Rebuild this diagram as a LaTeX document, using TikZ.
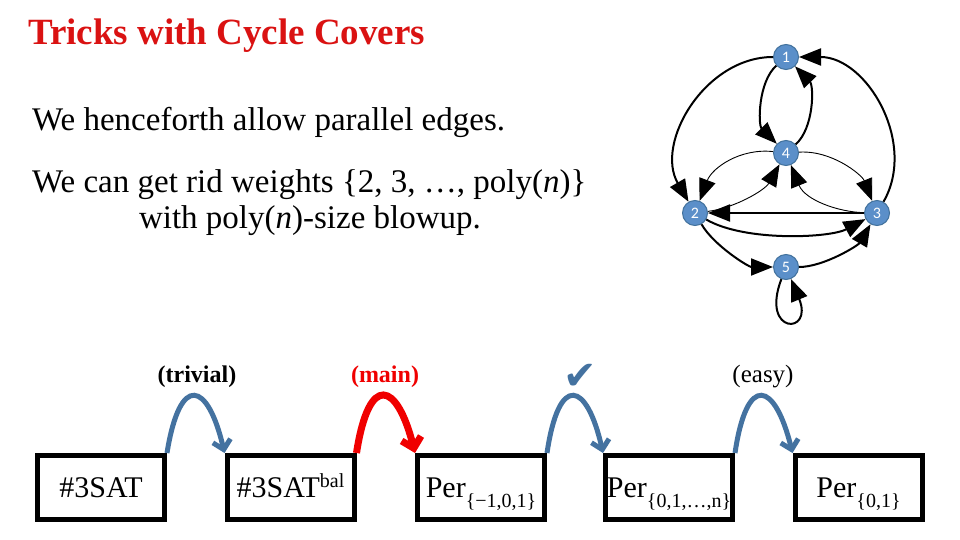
\documentclass[tikz,border=0pt]{standalone}
\usepackage{fontspec}
\setmainfont{Liberation Serif}
\newfontfamily\symfont{DejaVu Sans}
\newfontfamily\nodefont{Carlito}
\usetikzlibrary{arrows.meta}
\definecolor{titlered}{RGB}{218,18,18}
\definecolor{nodeblue}{RGB}{91,143,201}
\definecolor{nodeedge}{RGB}{65,113,156}
\definecolor{arcblue}{RGB}{68,114,160}
\definecolor{arcred}{RGB}{240,0,0}
\tikzset{
  gnode/.style={circle, fill=nodeblue, draw=nodeedge, line width=1pt, minimum size=25pt, inner sep=0pt, text=white, font=\nodefont\fontsize{16}{16}\selectfont},
  gtip/.tip={Triangle[length=22pt,width=17pt]},
  gedge/.style={line width=2pt, -gtip},
  tedge/.style={line width=0.9pt, -gtip},
  redbox/.style={draw, line width=5pt, minimum width=127pt, minimum height=64pt, inner sep=0pt, text height=19pt, text depth=0pt, font=\fontsize{30}{30}\selectfont},
  barc/.style={draw=arcblue, line width=5pt, -{Straight Barb[length=9pt,width=18pt]}},
  rarc/.style={draw=arcred, line width=7pt, -{Straight Barb[length=10pt,width=20pt]}},
  lbl/.style={font=\fontsize{23}{23}\selectfont},
  body/.style={anchor=base west, inner sep=0pt, font=\fontsize{33}{33}\selectfont}
}
\begin{document}
\begin{tikzpicture}[x=1pt,y=-1pt]
\useasboundingbox (0,0) rectangle (960,540);
\fill[white] (0,0) rectangle (960,540);
% title and text
\node[anchor=base west, inner sep=0pt, text=titlered, font=\bfseries\fontsize{37}{37}\selectfont] (title) at (28,45) {Tricks with Cycle Covers};
\node[body] (t1) at (32,131) {We henceforth allow parallel edges.};
\node[body] (t2) at (32,193) {We can get rid weights \{2, 3, …, poly(\textit{n})\}};
\node[body, anchor=base] (t3) at (310,228) {with poly(\textit{n})-size blowup.};
% graph
\node[gnode] (n1) at (786,57) {1};
\node[gnode] (n4) at (786,153) {4};
\node[gnode] (n2) at (695,213) {2};
\node[gnode] (n3) at (877,213) {3};
\node[gnode] (n5) at (786,267) {5};
\draw[gedge] (n1) .. controls (705,57) and (654.6,143) .. (n2);
\draw[gedge] (n3) .. controls (917.4,143) and (866.8,57) .. (n1);
\draw[gedge] (n1) .. controls (758,82) and (758,125) .. (n4);
\draw[gedge] (n4) .. controls (814,128) and (814,86) .. (n1);
\draw[tedge] (n4) .. controls (740,148) and (712,168) .. (n2);
\draw[tedge] (n2) .. controls (735,208) and (765,190) .. (n4);
\draw[tedge] (n4) .. controls (832,150) and (862,175) .. (n3);
\draw[tedge] (n3) .. controls (838,212) and (805,200) .. (n4);
\draw[gedge] (n3) -- (n2);
\draw[gedge] (n2) .. controls (745,242) and (830,238) .. (n3);
\draw[gedge] (n2) .. controls (713.8,245.5) and (748.5,267) .. (n5);
\draw[gedge] (n5) .. controls (823.5,267) and (858.2,245.5) .. (n3);
\draw[gedge] (n5) .. controls (760,335) and (814,335) .. (n5);
% boxes
\node[redbox] (b1) at (101,487.5) {\#3SAT};
\node[redbox] (b2) at (290.5,487.5) {\#3SAT\raisebox{10pt}{\fontsize{20}{20}\selectfont bal}};
\node[redbox] (b3) at (481,487.5) {Per\raisebox{-10pt}{\fontsize{20}{20}\selectfont\{−1,0,1\}}};
\node[redbox] (b4) at (669,487.5) {Per\raisebox{-10pt}{\fontsize{20}{20}\selectfont\{0,1,…,n\}}};
\node[redbox] (b5) at (858.5,487.5) {Per\raisebox{-10pt}{\fontsize{20}{20}\selectfont\{0,1\}}};
% reduction arcs
\draw[barc] (b1.north east) .. controls (180,372) and (208,382) .. (b2.north west);
\draw[rarc] (b2.north east) .. controls (369,372) and (397,382) .. (b3.north west);
\draw[barc] (b3.north east) .. controls (559,372) and (587,382) .. (b4.north west);
\draw[barc] (b4.north east) .. controls (747,372) and (775,382) .. (b5.north west);
\node[lbl, font=\bfseries\fontsize{24}{24}\selectfont] (l1) at (197,377) {(trivial)};
\node[lbl, font=\bfseries\fontsize{24}{24}\selectfont, text=arcred] (l2) at (385,377) {(main)};
\node[text=arcblue, font=\symfont\fontsize{40}{40}\selectfont, inner sep=0pt] (l3) at (580,377) {✔};
\node[lbl, font=\fontsize{25}{25}\selectfont] (l4) at (763,377) {(easy)};
\end{tikzpicture}
\end{document}
